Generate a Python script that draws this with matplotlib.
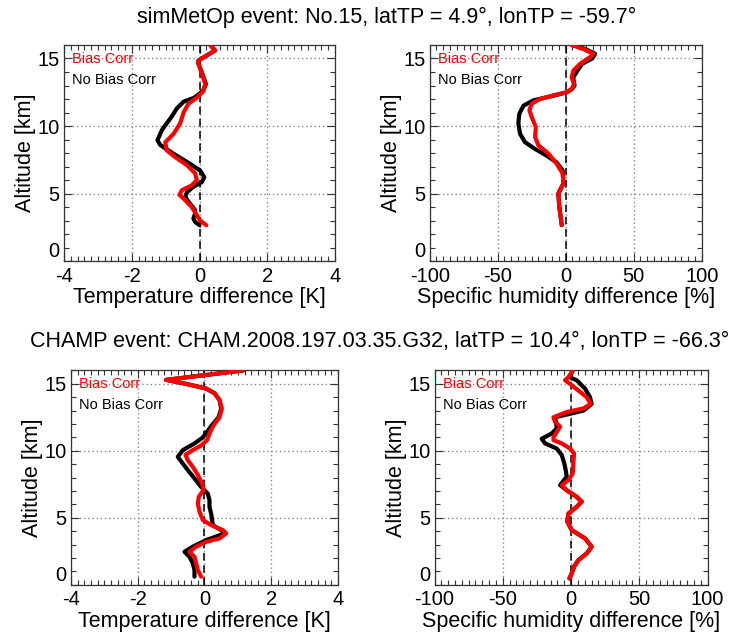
import matplotlib
matplotlib.use("Agg")
import matplotlib.pyplot as plt
from matplotlib.ticker import MultipleLocator

plt.rcParams['font.family'] = ['Liberation Sans', 'DejaVu Sans']

# ---------------- data ----------------
title_top = "simMetOp event: No.15, latTP = 4.9°, lonTP = -59.7°"
title_bot = "CHAMP event: CHAM.2008.197.03.35.G32, latTP = 10.4°, lonTP = -66.3°"
legend_labels = ["Bias Corr", "No Bias Corr"]

# Panel 1: simMetOp temperature difference [K]
p1_red_alt = [16.0, 15.6, 14.85, 14.6, 13.9, 13.1, 12.6, 12.1, 11.65, 11.0, 10.2, 9.4, 8.8, 8.2,
              7.7, 7.1, 6.5, 6.0, 5.6, 5.25, 4.9, 4.5, 4.0, 3.4, 3.0, 2.65]
p1_red_val = [0.32, 0.46, -0.03, -0.03, 0.07, 0.17, 0.12, -0.08, -0.33, -0.47, -0.57, -0.77, -1.01, -0.97,
              -0.72, -0.37, -0.13, -0.08, -0.23, -0.52, -0.59, -0.42, -0.23, -0.08, 0.02, 0.2]
p1_blk_alt = [16.0, 15.6, 14.85, 14.6, 13.9, 13.1, 12.6, 12.1, 11.8, 11.3, 10.7, 9.7, 8.95, 8.6, 7.95,
              7.2, 6.7, 6.2, 5.85, 5.5, 5.1, 4.75, 4.4, 3.77, 3.5, 3.15, 2.9, 2.65]
p1_blk_val = [0.32, 0.46, -0.03, -0.03, 0.08, 0.19, 0.1, -0.15, -0.47, -0.67, -0.82, -1.11, -1.24, -1.16, -0.77,
              -0.28, 0.02, 0.14, 0.07, -0.18, -0.37, -0.42, -0.33, -0.13, -0.13, -0.18, -0.13, 0.0]

# Panel 2: simMetOp specific humidity difference [%]
p2_red_alt = [16.0, 15.7, 15.35, 15.1, 14.6, 14.1, 13.6, 13.1, 12.75, 12.5, 12.27, 12.0, 11.65, 11.16,
              10.67, 9.93, 9.19, 8.57, 7.96, 7.2, 6.48, 5.74, 5.0, 4.0, 3.28, 2.66]
p2_red_val = [4.4, 13.0, 20.3, 17.9, 10.5, 5.6, 4.4, 6.1, 4.4, 0.7, -9.1, -18.9, -25.0, -26.7,
              -25.0, -22.0, -22.5, -20.1, -12.7, -6.6, -2.2, -1.7, -5.4, -4.7, -3.7, -2.9]
p2_blk_alt = [16.0, 15.7, 15.35, 15.0, 14.6, 14.0, 13.6, 13.0, 12.75, 12.5, 12.27, 11.9, 11.5, 10.9,
              10.2, 9.43, 8.8, 8.3, 7.8, 7.3, 6.7, 5.74, 5.0, 4.0, 3.28, 2.66]
p2_blk_val = [5.0, 14.5, 21.6, 19.5, 12.0, 8.0, 5.5, 6.5, 4.8, 1.0, -7.8, -23.8, -31.1, -34.1,
              -34.8, -33.6, -29.9, -22.5, -14.0, -6.6, -2.2, -1.7, -5.4, -4.7, -3.7, -2.9]

# Panel 3: CHAMP temperature difference [K]
p3_red_alt = [16.0, 15.3, 15.0, 14.65, 14.3, 13.8, 13.15, 12.5, 11.9, 11.3, 10.8, 10.4, 10.05, 9.7, 9.3,
              8.8, 8.2, 7.56, 7.06, 6.57, 6.07, 5.45, 4.83, 4.45, 4.08, 3.83, 3.46, 3.2, 2.84, 2.46,
              2.09, 1.6, 1.1, 0.6]
p3_red_val = [1.15, -1.15, -0.55, 0.05, 0.3, 0.45, 0.52, 0.45, 0.27, 0.15, 0.08, -0.1, -0.35, -0.57, -0.5,
              -0.35, -0.2, -0.07, -0.03, -0.17, -0.2, -0.15, -0.05, 0.2, 0.55, 0.65, 0.45, 0.05, -0.25, -0.45,
              -0.3, -0.25, -0.2, -0.1]
p3_blk_alt = [16.0, 15.3, 15.0, 14.65, 14.3, 13.8, 13.15, 12.5, 11.9, 11.5, 11.0, 10.55, 10.05, 9.55, 9.05,
              8.56, 7.94, 7.3, 6.8, 6.3, 5.8, 5.3, 4.83, 4.45, 4.08, 3.83, 3.33, 2.84, 2.46, 2.09, 1.6,
              1.1, 0.6]
p3_blk_val = [1.15, -1.15, -0.55, 0.05, 0.3, 0.45, 0.5, 0.42, 0.22, 0.1, -0.05, -0.3, -0.65, -0.8, -0.65,
              -0.5, -0.3, -0.1, 0.1, 0.15, 0.15, 0.2, 0.23, 0.25, 0.5, 0.6, 0.05, -0.35, -0.6, -0.45, -0.35,
              -0.3, -0.3]

# Panel 4: CHAMP specific humidity difference [%]
p4_red_alt = [16.0, 15.5, 15.27, 14.9, 14.5, 14.0, 13.5, 13.16, 12.9, 12.5, 12.16, 11.8, 11.4, 11.0, 10.8,
              10.55, 10.17, 9.8, 9.05, 8.3, 7.8, 7.44, 7.06, 6.57, 6.2, 5.82, 5.3, 4.7, 4.08, 3.46, 2.84,
              2.34, 1.84, 1.34, 0.85, 0.47]
p4_red_val = [1.2, -2.0, -4.4, 0.5, 5.4, 11.5, 14.4, 9.0, -3.2, -12.9, -11.7, -8.0, -10.5, -12.9, -12.9,
              -6.8, -0.7, 2.2, 1.7, 1.2, -2.0, -6.8, -3.2, 4.1, 7.8, 4.1, -2.0, -2.7, 0.5, 10.2, 15.1,
              11.5, 5.4, 2.2, 0.5, -1.2]
p4_blk_alt = [16.0, 15.5, 15.27, 14.65, 14.0, 13.5, 13.0, 12.5, 12.16, 11.67, 11.3, 10.9, 10.55, 10.17,
              9.68, 9.05, 8.43, 8.06, 7.44, 7.06, 6.57, 6.2, 5.82, 5.3, 4.7, 4.08, 3.46, 2.84, 2.34,
              1.84, 1.34, 0.85, 0.47]
p4_blk_val = [1.2, -1.0, 4.1, 10.2, 13.9, 15.1, 9.0, -12.0, -11.0, -10.5, -14.1, -21.5, -19.0, -10.5,
              -6.8, -4.9, -3.7, -3.2, -8.0, -3.2, 4.1, 7.8, 4.1, -2.0, -2.7, 0.5, 10.2, 15.1, 11.5,
              5.4, 2.2, 0.5, -1.2]

temp_ticks = [-4, -2, 0, 2, 4]
hum_ticks = [-100, -50, 0, 50, 100]
alt_ticks = [0, 5, 10, 15]

# ---------------- figure ----------------
fig = plt.figure(figsize=(7.34, 6.32), dpi=100)

positions = [
    [0.0872, 0.587, 0.3692, 0.3418],
    [0.5854, 0.587, 0.3706, 0.3418],
    [0.0967, 0.0748, 0.3638, 0.339],
    [0.5920, 0.0748, 0.3720, 0.339],
]
panels = [
    (p1_red_alt, p1_red_val, p1_blk_alt, p1_blk_val, 'T'),
    (p2_red_alt, p2_red_val, p2_blk_alt, p2_blk_val, 'Q'),
    (p3_red_alt, p3_red_val, p3_blk_alt, p3_blk_val, 'T'),
    (p4_red_alt, p4_red_val, p4_blk_alt, p4_blk_val, 'Q'),
]

for pos, (ra, rv, ba, bv, kind) in zip(positions, panels):
    ax = fig.add_axes(pos)
    ax.plot(bv, ba, color='black', lw=3.0, solid_capstyle='round',
            solid_joinstyle='round', zorder=3)
    ax.plot(rv, ra, color='#ff0000', lw=3.0, solid_capstyle='round',
            solid_joinstyle='round', zorder=4)
    ax.axvline(0, color='black', lw=1.1, ls=(0, (5, 3)), zorder=2)
    if kind == 'T':
        ax.set_xlim(-4, 4)
        ax.set_xticks(temp_ticks)
        ax.set_xticklabels([str(t) for t in temp_ticks])
        ax.xaxis.set_minor_locator(MultipleLocator(0.2))
        ax.set_xlabel("Temperature difference [K]", fontsize=15.5, labelpad=1)
    else:
        ax.set_xlim(-100, 100)
        ax.set_xticks(hum_ticks)
        ax.set_xticklabels([str(t) for t in hum_ticks])
        ax.xaxis.set_minor_locator(MultipleLocator(5))
        ax.set_xlabel("Specific humidity difference [%]", fontsize=15.5, labelpad=1)
    ax.set_ylim(0, 16)
    ax.set_yticks(alt_ticks)
    ax.set_yticklabels([str(t) for t in alt_ticks])
    ax.yaxis.set_minor_locator(MultipleLocator(1))
    ax.set_ylabel("Altitude [km]", fontsize=15.5, labelpad=1)
    ax.grid(True, which='major', color='#888888', ls=(0, (1, 2)), lw=1.0)
    ax.tick_params(which='both', direction='in', top=True, right=True, labelsize=14.5,
                   color='#333333')
    ax.tick_params(axis='x', which='both', pad=4)
    ax.tick_params(axis='y', which='both', pad=3)
    ax.tick_params(which='major', length=6, width=0.8)
    ax.tick_params(which='minor', length=3.5, width=0.8)
    # raise the "0" altitude label a little, as in the reference
    ax.get_yticklabels()[0].set_va('bottom')
    for sp in ax.spines.values():
        sp.set_linewidth(0.9)
        sp.set_color('#333333')
    ax.text(0.03, 0.935, legend_labels[0], color='#ff0000', fontsize=10.5,
            transform=ax.transAxes, va='center', ha='left', zorder=5)
    ax.text(0.03, 0.84, legend_labels[1], color='black', fontsize=10.5,
            transform=ax.transAxes, va='center', ha='left', zorder=5)

fig.text(0.527, 0.972, title_top, ha='center', va='center', fontsize=15.5)
fig.text(0.517, 0.459, title_bot, ha='center', va='center', fontsize=15.5)

fig.savefig("out.png", dpi=100)
